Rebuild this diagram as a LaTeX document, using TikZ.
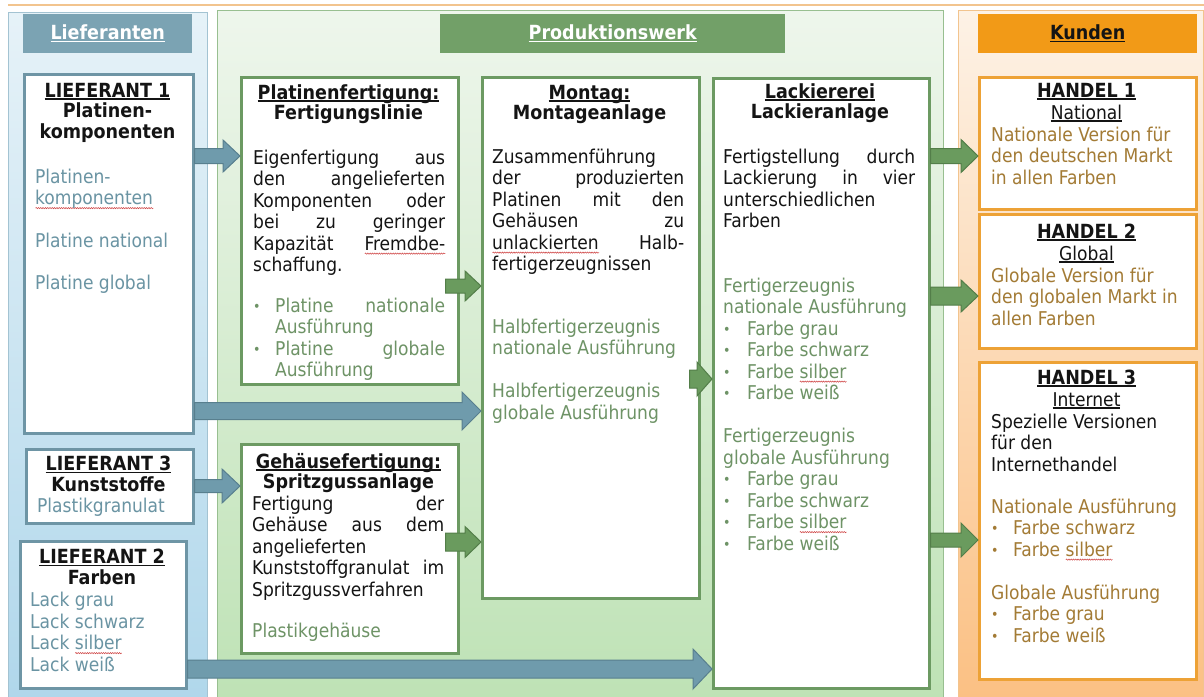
\documentclass[tikz,border=0pt]{standalone}
\usepackage{fontspec}
\setmainfont{DejaVu Sans Condensed}
\usetikzlibrary{calc,decorations.pathmorphing}

% palette
\definecolor{bluePanelTop}{HTML}{E6F2F8}
\definecolor{bluePanelBot}{HTML}{B0D7EB}
\definecolor{bluePanelLine}{HTML}{A3C3D2}
\definecolor{blueHdr}{HTML}{7BA3B3}
\definecolor{blueLine}{HTML}{6E95A5}
\definecolor{blueText}{HTML}{6A94A3}
\definecolor{blueArrow}{HTML}{6F9BAC}
\definecolor{blueArrowLine}{HTML}{587F8E}
\definecolor{greenPanelTop}{HTML}{EEF6EC}
\definecolor{greenPanelBot}{HTML}{BEE2B5}
\definecolor{greenPanelLine}{HTML}{98BF90}
\definecolor{greenHdr}{HTML}{72A068}
\definecolor{greenLine}{HTML}{6C9A62}
\definecolor{greenText}{HTML}{6E9366}
\definecolor{greenArrow}{HTML}{6A9B5E}
\definecolor{greenArrowLine}{HTML}{537E49}
\definecolor{orangePanelTop}{HTML}{FDF2E6}
\definecolor{orangePanelBot}{HTML}{FBC083}
\definecolor{orangePanelLine}{HTML}{F2C48E}
\definecolor{orangeHdr}{HTML}{F29A17}
\definecolor{orangeLine}{HTML}{EDA236}
\definecolor{brownText}{HTML}{A37B35}
\definecolor{inkText}{HTML}{141414}
\definecolor{squigRed}{HTML}{D04848}

% helpers: underline, spell-check squiggle, justified line, bullet
\newsavebox\undlbox
\newcommand\undl[1]{\sbox\undlbox{#1}\rlap{\rule[-2.6pt]{\wd\undlbox}{1.3pt}}\usebox\undlbox}
\newsavebox\sqbox
\newcommand\squig[1]{\sbox\sqbox{#1}\rlap{\tikz[baseline=0pt]\draw[squiggle] (0pt,-3.6pt) -- (\wd\sqbox,-3.6pt);}\usebox\sqbox}
\newcommand\jl[2]{\makebox[#1][s]{#2}}
\newcommand\bul[1]{\makebox[#1][l]{\raisebox{0.8pt}{\fontsize{14}{14}\selectfont\textbullet}}}

% block arrow from the east side of one node to the west side of another
% #1 style, #2 source, #3 target, #4 y, #5 shaft half, #6 head half, #7 head length, #8 start inset
\newcommand\barrow[8]{%
  \draw[#1] let \p1=(#2.east |- 0,#4), \p2=(#3.west |- 0,#4) in
    (\x1-#8pt,\y1+#5pt) -- (\x2-#7pt,\y1+#5pt) -- (\x2-#7pt,\y1+#6pt) -- (\x2,\y1)
    -- (\x2-#7pt,\y1-#6pt) -- (\x2-#7pt,\y1-#5pt) -- (\x1-#8pt,\y1-#5pt) -- cycle;}

\tikzset{squiggle/.style={draw=squigRed, line width=0.55pt, decorate,
  decoration={snake, amplitude=0.6pt, segment length=2.3pt}}}

\begin{document}
\begin{tikzpicture}[x=1pt, y=-1pt,
  panel/.style={draw, line width=1.2pt, inner sep=0, anchor=north west},
  hdr/.style={inner sep=0, anchor=north west, font=\bfseries\fontsize{19.5}{21}\selectfont},
  bbox/.style={draw=blueLine, line width=2.6pt, fill=white, inner sep=0, anchor=north west},
  gbox/.style={draw=greenLine, line width=2.6pt, fill=white, inner sep=0, anchor=north west},
  obox/.style={draw=orangeLine, line width=2.6pt, fill=white, inner sep=0, anchor=north west},
  % multi-line text nodes are placed by the baseline of their last line
  ttl/.style={inner sep=0, anchor=base, align=center, text=inkText,
    font=\bfseries\fontsize{19.5}{20.5}\selectfont},
  tx/.style={inner sep=0, anchor=base west, align=left, text=inkText,
    font=\fontsize{19}{21.5}\selectfont},
  sub/.style={inner sep=0, anchor=base, text=inkText, font=\fontsize{19}{21.5}\selectfont},
  barr/.style={fill=blueArrow, draw=blueArrowLine, line width=1pt},
  garr/.style={fill=greenArrow, draw=greenArrowLine, line width=1pt}]

\useasboundingbox (0,0) rectangle (1204,696);
\clip (0,0) rectangle (1204,696);

% thin rule along the top
\draw[orangePanelLine, line width=1.4pt] (8,5) -- (1204,5);

% column panels
\node[panel, draw=bluePanelLine, top color=bluePanelTop, bottom color=bluePanelBot,
  minimum width=199, minimum height=688] (pL) at (8,12) {};
\node[panel, draw=greenPanelLine, top color=greenPanelTop, bottom color=greenPanelBot,
  minimum width=726, minimum height=690] (pP) at (217,10) {};
\node[panel, draw=orangePanelLine, top color=orangePanelTop, bottom color=orangePanelBot,
  minimum width=245, minimum height=690] (pK) at (958,10) {};

% column headers
\node[hdr, fill=blueHdr, text=white, minimum width=169, minimum height=39] (hL) at (23,14) {\undl{Lieferanten}};
\node[hdr, fill=greenHdr, text=white, minimum width=345, minimum height=39] (hP) at (440,14) {\undl{Produktionswerk}};
\node[hdr, fill=orangeHdr, text=inkText, minimum width=219, minimum height=39] (hK) at (978,14) {\undl{Kunden}};

% supplier boxes
\node[bbox, minimum width=169, minimum height=359] (L1) at (23,73) {};
\node[bbox, minimum width=167, minimum height=74] (L3) at (25,448) {};
\node[bbox, minimum width=166, minimum height=147] (L2) at (19,540) {};

% plant boxes
\node[gbox, minimum width=217, minimum height=307] (plat) at (240,76) {};
\node[gbox, minimum width=217, minimum height=209] (geh) at (240,443) {};
\node[gbox, minimum width=217, minimum height=521] (mont) at (481,76) {};
\node[gbox, minimum width=216, minimum height=610] (lack) at (712,77) {};

% customer boxes
\node[obox, minimum width=217, minimum height=132] (h1) at (978,76) {};
\node[obox, minimum width=217, minimum height=134] (h2) at (978,213) {};
\node[obox, minimum width=217, minimum height=317] (h3) at (978,361) {};

% ---- Lieferant 1
\node[ttl] (l1t) at (107.5,138) {\undl{LIEFERANT 1}\\Platinen-\\komponenten};
\node[tx, text=blueText] (l1x) at (35,289)
  {Platinen-\\\squig{komponenten}\\[21.5pt]Platine national\\[20pt]Platine global};

% ---- Lieferant 3
\node[ttl] (l3t) at (108.5,491) {\undl{LIEFERANT 3}\\Kunststoffe};
\node[tx, text=blueText] (l3x) at (37,512) {Plastikgranulat};

% ---- Lieferant 2
\node[ttl] (l2t) at (102,584) {\undl{LIEFERANT 2}\\Farben};
\node[tx, text=blueText] (l2x) at (30,671)
  {Lack grau\\Lack schwarz\\Lack \squig{silber}\\Lack weiß};

% ---- Platinenfertigung
\node[ttl] (platt) at (348.5,119.5) {\undl{Platinenfertigung:}\\Fertigungslinie};
\node[tx] (platx) at (253,271.5)
  {\jl{192pt}{Eigenfertigung aus}\\\jl{192pt}{den angelieferten}\\
   \jl{192pt}{Komponenten oder}\\\jl{192pt}{bei zu geringer}\\
   \jl{192pt}{Kapazität \squig{Fremdbe-}}\\schaffung.};
\node[tx, text=greenText] (platb) at (253,376.5)
  {\bul{22pt}\jl{170pt}{Platine nationale}\\\hspace*{22pt}Ausführung\\
   \bul{22pt}\jl{170pt}{Platine globale}\\\hspace*{22pt}Ausführung};

% ---- Gehäusefertigung
\node[ttl] (geht) at (348.5,488.5) {\undl{Gehäusefertigung:}\\Spritzgussanlage};
\node[tx] (gehx) at (252,596)
  {\jl{192pt}{Fertigung der}\\\jl{192pt}{Gehäuse aus dem}\\angelieferten\\
   \jl{192pt}{Kunststoffgranulat im}\\Spritzgussverfahren};
\node[tx, text=greenText] (gehb) at (252,637) {Plastikgehäuse};

% ---- Montage
\node[ttl] (montt) at (589.5,119.5) {\undl{Montag:}\\Montageanlage};
\node[tx] (montx) at (492,270.5)
  {Zusammenführung\\\jl{192pt}{der produzierten}\\\jl{192pt}{Platinen mit den}\\
   \jl{192pt}{Gehäusen zu}\\\jl{192pt}{\squig{unlackierten} Halb-}\\fertigerzeugnissen};
\node[tx, text=greenText] (montb) at (492,419)
  {Halbfertigerzeugnis\\nationale Ausführung\\[21.5pt]Halbfertigerzeugnis\\globale Ausführung};

% ---- Lackiererei
\node[ttl] (lackt) at (820,118.5) {\undl{Lackiererei}\\Lackieranlage};
\node[tx] (lackx) at (723,227.5)
  {\jl{192pt}{Fertigstellung durch}\\\jl{192pt}{Lackierung in vier}\\unterschiedlichen\\Farben};
\node[tx, text=greenText] (lackb) at (723,550)
  {Fertigerzeugnis\\nationale Ausführung\\
   \bul{24pt}Farbe grau\\\bul{24pt}Farbe schwarz\\\bul{24pt}Farbe \squig{silber}\\\bul{24pt}Farbe weiß\\[21.5pt]
   Fertigerzeugnis\\globale Ausführung\\
   \bul{24pt}Farbe grau\\\bul{24pt}Farbe schwarz\\\bul{24pt}Farbe \squig{silber}\\\bul{24pt}Farbe weiß};

% ---- Handel 1
\node[ttl] (h1t) at (1086.5,97) {\undl{HANDEL 1}};
\node[sub] (h1s) at (1086.5,119) {\undl{National}};
\node[tx, text=brownText] (h1x) at (991,184)
  {Nationale Version für\\den deutschen Markt\\in allen Farben};

% ---- Handel 2
\node[ttl] (h2t) at (1086.5,238) {\undl{HANDEL 2}};
\node[sub] (h2s) at (1086.5,260) {\undl{Global}};
\node[tx, text=brownText] (h2x) at (991,325)
  {Globale Version für\\den globalen Markt in\\allen Farben};

% ---- Handel 3
\node[ttl] (h3t) at (1086.5,384) {\undl{HANDEL 3}};
\node[sub] (h3s) at (1086.5,406) {\undl{Internet}};
\node[tx] (h3x) at (991,471) {Spezielle Versionen\\für den\\Internethandel};
\node[tx, text=brownText] (h3b) at (991,642)
  {Nationale Ausführung\\\bul{22pt}Farbe schwarz\\\bul{22pt}Farbe \squig{silber}\\[21.5pt]
   Globale Ausführung\\\bul{22pt}Farbe grau\\\bul{22pt}Farbe weiß};

% ---- material flow: suppliers into the plant
\barrow{barr}{L1}{plat}{156}{7.5}{16}{17}{0}
\barrow{barr}{L1}{mont}{411}{8.5}{19}{19}{0}
\barrow{barr}{L3}{geh}{486}{6.5}{17}{18}{0}
\barrow{barr}{L2}{lack}{669}{9}{20}{19}{0}

% ---- material flow inside the plant
\barrow{garr}{plat}{mont}{286}{7}{15}{16}{14}
\barrow{garr}{geh}{mont}{542}{9}{15.5}{16}{14}
\barrow{garr}{mont}{lack}{379}{9}{17}{15}{11}

% ---- deliveries to the customers
\barrow{garr}{lack}{h1}{156}{7.5}{16.5}{17}{0}
\barrow{garr}{lack}{h2}{296}{9}{16}{17}{0}
\barrow{garr}{lack}{h3}{540}{7}{17}{17}{0}

\end{tikzpicture}
\end{document}
